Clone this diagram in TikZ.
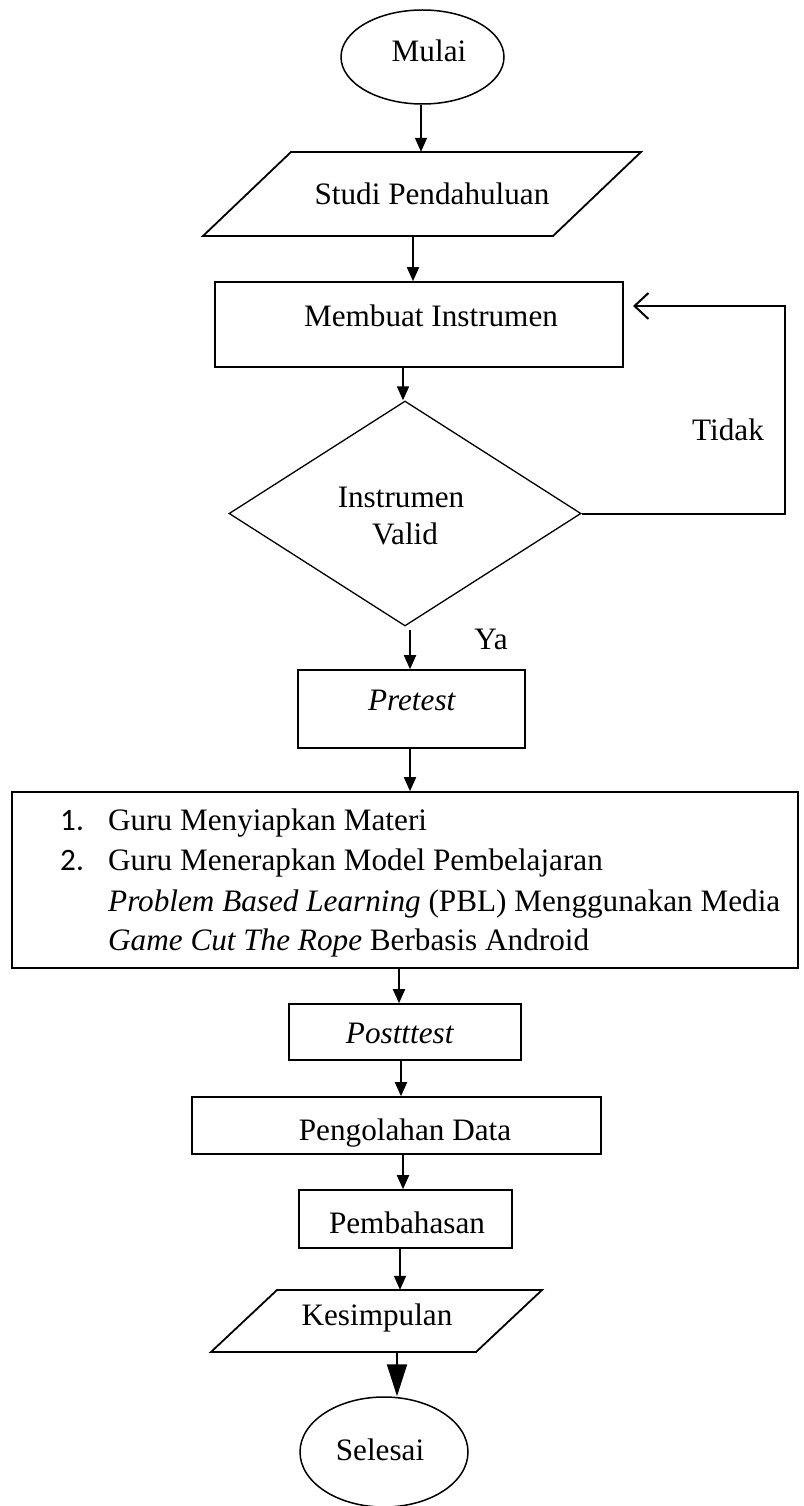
\documentclass[tikz,border=0pt]{standalone}
\usepackage{fontspec}
\setmainfont{Liberation Serif}
\newfontfamily\numfont{Carlito}
\usetikzlibrary{shapes.geometric,arrows.meta}
\begin{document}
\begin{tikzpicture}[x=1pt,y=-1pt,
  shp/.style={draw,line width=1.6pt,inner sep=0pt},
  ghost/.style={inner sep=0pt},
  txt/.style={inner sep=0pt,anchor=base,font=\fontsize{31.2}{38}\selectfont},
  arr/.style={line width=1.8pt,-{Triangle[width=12pt,length=14pt]}},
  bigarr/.style={line width=2pt,-{Triangle[width=20pt,length=32pt]}},
  loop/.style={line width=2pt,-{Straight Barb[width=26pt,length=14pt]}},
]
\useasboundingbox (0,0) rectangle (803,1506);

% Mulai
\node[shp,ellipse,line width=1.5pt,minimum width=163pt,minimum height=94pt] (mulai) at (422.5,57) {};
\node[txt] (mulait) at (429,62) {Mulai};

% Studi Pendahuluan
\draw[line width=1.8pt] (203,236) -- (291,152) -- (641,152) -- (553,236) -- cycle;
\node[ghost,minimum width=350pt,minimum height=84pt] (studi) at (422,194) {};
\node[txt] (studit) at (432,205) {Studi Pendahuluan};

% Membuat Instrumen
\node[shp,minimum width=408pt,minimum height=85pt] (membuat) at (419,324.5) {};
\node[txt] (membuatt) at (431,326) {Membuat Instrumen};

% Instrumen Valid
\node[shp,diamond,line width=1.3pt,minimum width=352pt,minimum height=225pt] (valid) at (405,513.5) {};
\node[txt] (validt1) at (401,507) {Instrumen};
\node[txt] (validt2) at (405,544) {Valid};

% Tidak / Ya
\node[txt] (tidak) at (728,440) {Tidak};
\node[txt] (ya) at (491,649) {Ya};

% Pretest
\node[shp,minimum width=227pt,minimum height=78pt] (pretest) at (411.5,709) {};
\node[txt] (pretestt) at (412,710) {\textit{Pretest}};

% Big box
\node[shp,minimum width=786pt,minimum height=176pt] (big) at (405,880) {};
\node[txt,anchor=base west] (n1) at (60,830) {\numfont 1.};
\node[txt,anchor=base west] (l1) at (108,830) {Guru Menyiapkan Materi};
\node[txt,anchor=base west] (n2) at (60,870) {\numfont 2.};
\node[txt,anchor=base west] (l2) at (108,870) {Guru Menerapkan Model Pembelajaran};
\node[txt,anchor=base west] (l3) at (108,911) {\textit{Problem Based Learning} (PBL) Menggunakan Media};
\node[txt,anchor=base west] (l4) at (108,950) {\textit{Game Cut The Rope} Berbasis Android};

% Postttest
\node[shp,minimum width=232pt,minimum height=56pt] (post) at (405,1032) {};
\node[txt] (postt) at (400,1043) {\textit{Postttest}};

% Pengolahan Data
\node[shp,minimum width=409pt,minimum height=57pt] (olah) at (396.5,1125.5) {};
\node[txt] (olaht) at (405,1140) {Pengolahan Data};

% Pembahasan
\node[shp,minimum width=213pt,minimum height=58pt] (bahas) at (405.5,1219) {};
\node[txt] (bahast) at (407,1233) {Pembahasan};

% Kesimpulan
\draw[line width=1.8pt] (211,1352) -- (277,1290) -- (542,1290) -- (476,1352) -- cycle;
\node[ghost,minimum width=265pt,minimum height=62pt] (kes) at (376.5,1321) {};
\node[txt] (kest) at (377,1325) {Kesimpulan};

% Selesai
\node[shp,ellipse,line width=1.5pt,minimum width=168pt,minimum height=110pt] (selesai) at (384,1452) {};
\node[txt] (selesait) at (380,1460) {Selesai};

% arrow x positions
\coordinate (a1) at (421,0);
\coordinate (a2) at (413,0);
\coordinate (a3) at (403,0);
\coordinate (a4) at (410,0);
\coordinate (a5) at (410,0);
\coordinate (a6) at (399,0);
\coordinate (a7) at (401,0);
\coordinate (a8) at (403,0);
\coordinate (a9) at (400,0);
\coordinate (a10) at (397,0);

\draw[arr] (mulai.south -| a1) -- (studi.north -| a1);
\draw[arr] (studi.south -| a2) -- (membuat.north -| a2);
\draw[arr] (membuat.south -| a3) -- (valid.north -| a3);
\draw[arr] ([yshift=-3pt]valid.south -| a4) -- (pretest.north -| a4);
\draw[arr] (pretest.south -| a5) -- (big.north -| a5);
\draw[arr] (big.south -| a6) -- (post.north -| a6);
\draw[arr] (post.south -| a7) -- (olah.north -| a7);
\draw[arr] (olah.south -| a8) -- (bahas.north -| a8);
\draw[arr] (bahas.south -| a9) -- (kes.north -| a9);
\draw[bigarr] (kes.south -| a10) -- (selesai.north -| a10);

% loop back
\coordinate (c1) at (785,0);
\coordinate (loopend) at (633,306);
\draw[loop] (valid.east) -- (valid.east -| c1) -- (loopend -| c1) -- (loopend);
\end{tikzpicture}
\end{document}
